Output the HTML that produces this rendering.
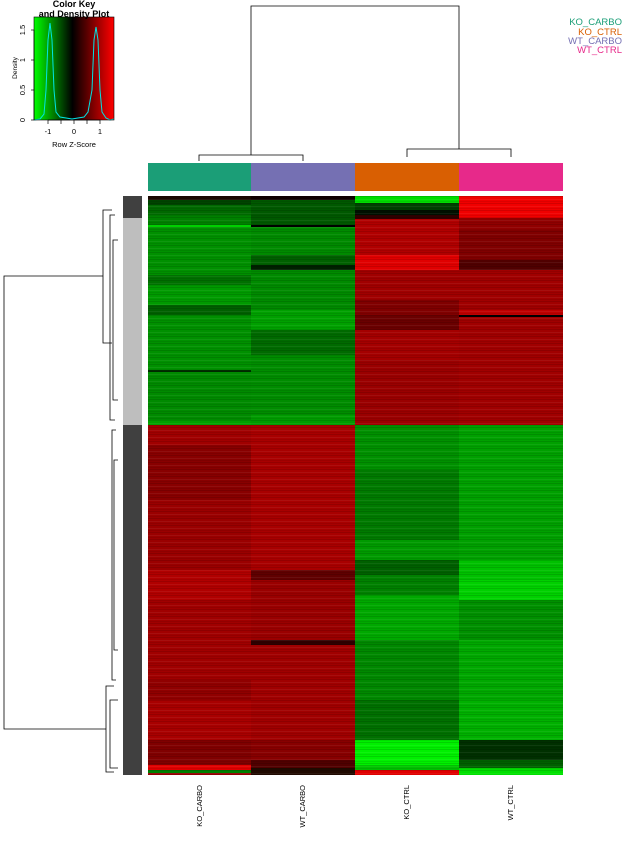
<!DOCTYPE html>
<html><head><style>body{margin:0;background:#fff}svg{display:block}</style></head><body>
<svg width="638" height="850" xmlns="http://www.w3.org/2000/svg" font-family="Liberation Sans, sans-serif">
<defs>
<linearGradient id="ck" x1="0" x2="1" y1="0" y2="0">
<stop offset="0" stop-color="#00ff00"/><stop offset="0.48" stop-color="#000"/><stop offset="1" stop-color="#ff0000"/>
</linearGradient>
<pattern id="tex" width="415" height="7" patternUnits="userSpaceOnUse">
<rect y="0" width="415" height="1" fill="#000" opacity="0.12"/>
<rect y="3" width="415" height="1" fill="#fff" opacity="0.06"/>
<rect y="5" width="415" height="1" fill="#000" opacity="0.08"/>
</pattern>
</defs>
<!-- color key -->
<rect x="34" y="17" width="80" height="103" fill="url(#ck)"/>
<polyline fill="none" stroke="#00e5e5" stroke-width="1" points="34,120 40,119 44,114 46,90 48,40 50,23 52,40 54,90 56,112 60,117 66,118 72,119 78,118 84,117 88,112 92,90 94,40 96,27 98,40 100,90 102,112 106,118 110,120 114,119"/>
<rect x="34" y="17" width="80" height="103" fill="none" stroke="#000" stroke-width="0.6"/>
<text x="74" y="7" font-size="9" font-weight="bold" text-anchor="middle">Color Key</text>
<text x="74" y="17" font-size="9" font-weight="bold" text-anchor="middle">and Density Plot</text>
<g stroke="#000" stroke-width="0.7"><line x1="34" y1="120" x2="34" y2="30"/><line x1="34" y1="120" x2="31" y2="120"/><line x1="34" y1="90" x2="31" y2="90"/><line x1="34" y1="60" x2="31" y2="60"/><line x1="34" y1="30" x2="31" y2="30"/>
<line x1="48" y1="120" x2="100" y2="120"/><line x1="48" y1="120" x2="48" y2="124"/><line x1="61" y1="120" x2="61" y2="124"/><line x1="74" y1="120" x2="74" y2="124"/><line x1="87" y1="120" x2="87" y2="124"/><line x1="100" y1="120" x2="100" y2="124"/></g>
<g font-size="7.5" text-anchor="middle"><text x="48" y="134">-1</text><text x="74" y="134">0</text><text x="100" y="134">1</text><text x="74" y="147">Row Z-Score</text>
<text transform="translate(25,120) rotate(-90)">0</text><text transform="translate(25,90) rotate(-90)">0.5</text><text transform="translate(25,60) rotate(-90)">1</text><text transform="translate(25,30) rotate(-90)">1.5</text>
<text transform="translate(17,68) rotate(-90)" font-size="6.5">Density</text></g>
<!-- legend -->
<g font-size="9.5" text-anchor="end"><text x="622" y="25" fill="#1b9e77">KO_CARBO</text><text x="622" y="35" fill="#d95f02">KO_CTRL</text><text x="622" y="44" fill="#7570b3">WT_CARBO</text><text x="622" y="53" fill="#e7298a">WT_CTRL</text></g>
<!-- top dendrogram -->
<g stroke="#000" stroke-width="0.8" fill="none">
<polyline points="251,155 251,6 459,6 459,149"/>
<polyline points="199,161 199,155 303,155 303,161"/>
<polyline points="407,157 407,149 511,149 511,157"/>
</g>
<!-- column bar -->
<rect x="148" y="163" width="104" height="28" fill="#1b9e77"/>
<rect x="251" y="163" width="104" height="28" fill="#7570b3"/>
<rect x="355" y="163" width="104" height="28" fill="#d95f02"/>
<rect x="459" y="163" width="104" height="28" fill="#e7298a"/>
<!-- row side bar -->
<rect x="123" y="196" width="19" height="22" fill="#404040"/>
<rect x="123" y="218" width="19" height="207" fill="#bebebe"/>
<rect x="123" y="425" width="19" height="350" fill="#404040"/>
<!-- heatmap -->
<g shape-rendering="crispEdges">
<!-- KO_CARBO -->
<g>
<rect x="148" y="196" width="104" height="4" fill="#1a0800"/><rect x="148" y="200" width="104" height="5" fill="#004400"/><rect x="148" y="205" width="104" height="10" fill="#006800"/><rect x="148" y="215" width="104" height="10" fill="#008000"/><rect x="148" y="225" width="104" height="2" fill="#00d000"/><rect x="148" y="227" width="104" height="48" fill="#009000"/><rect x="148" y="275" width="104" height="10" fill="#007000"/><rect x="148" y="285" width="104" height="20" fill="#009a00"/><rect x="148" y="305" width="104" height="10" fill="#006000"/><rect x="148" y="315" width="104" height="55" fill="#009000"/><rect x="148" y="370" width="104" height="2" fill="#003000"/><rect x="148" y="372" width="104" height="48" fill="#008a00"/><rect x="148" y="420" width="104" height="5" fill="#00a000"/>
<rect x="148" y="425" width="104" height="20" fill="#a00000"/><rect x="148" y="445" width="104" height="55" fill="#880000"/><rect x="148" y="500" width="104" height="70" fill="#9a0000"/><rect x="148" y="570" width="104" height="30" fill="#b00000"/><rect x="148" y="600" width="104" height="80" fill="#a00000"/><rect x="148" y="680" width="104" height="20" fill="#900000"/><rect x="148" y="700" width="104" height="40" fill="#a80000"/><rect x="148" y="740" width="104" height="25" fill="#800000"/><rect x="148" y="765" width="104" height="5" fill="#e00000"/><rect x="148" y="770" width="104" height="3" fill="#008000"/><rect x="148" y="773" width="104" height="2" fill="#900000"/>
</g>
<!-- WT_CARBO -->
<g>
<rect x="251" y="196" width="104" height="4" fill="#100000"/><rect x="251" y="200" width="104" height="25" fill="#005800"/><rect x="251" y="225" width="104" height="2" fill="#000"/><rect x="251" y="227" width="104" height="28" fill="#008a00"/><rect x="251" y="255" width="104" height="10" fill="#006000"/><rect x="251" y="265" width="104" height="5" fill="#002000"/><rect x="251" y="270" width="104" height="40" fill="#008a00"/><rect x="251" y="310" width="104" height="20" fill="#00a000"/><rect x="251" y="330" width="104" height="25" fill="#006a00"/><rect x="251" y="355" width="104" height="60" fill="#008c00"/><rect x="251" y="415" width="104" height="10" fill="#009a00"/>
<rect x="251" y="425" width="104" height="145" fill="#a80000"/><rect x="251" y="570" width="104" height="10" fill="#600000"/><rect x="251" y="580" width="104" height="60" fill="#9a0000"/><rect x="251" y="640" width="104" height="5" fill="#300000"/><rect x="251" y="645" width="104" height="95" fill="#a00000"/><rect x="251" y="740" width="104" height="20" fill="#880000"/><rect x="251" y="760" width="104" height="8" fill="#500000"/><rect x="251" y="768" width="104" height="7" fill="#200a00"/>
</g>
<!-- KO_CTRL -->
<g>
<rect x="355" y="196" width="104" height="7" fill="#00dd00"/><rect x="355" y="203" width="104" height="7" fill="#004000"/><rect x="355" y="210" width="104" height="5" fill="#001000"/><rect x="355" y="215" width="104" height="4" fill="#300000"/><rect x="355" y="219" width="104" height="36" fill="#b00000"/><rect x="355" y="255" width="104" height="15" fill="#e00000"/><rect x="355" y="270" width="104" height="30" fill="#a00000"/><rect x="355" y="300" width="104" height="15" fill="#800000"/><rect x="355" y="315" width="104" height="15" fill="#6a0000"/><rect x="355" y="330" width="104" height="30" fill="#a40000"/><rect x="355" y="360" width="104" height="65" fill="#9a0000"/>
<rect x="355" y="425" width="104" height="45" fill="#009000"/><rect x="355" y="470" width="104" height="70" fill="#007a00"/><rect x="355" y="540" width="104" height="20" fill="#009a00"/><rect x="355" y="560" width="104" height="15" fill="#006000"/><rect x="355" y="575" width="104" height="20" fill="#008000"/><rect x="355" y="595" width="104" height="45" fill="#00a800"/><rect x="355" y="640" width="104" height="60" fill="#008800"/><rect x="355" y="700" width="104" height="40" fill="#007000"/><rect x="355" y="740" width="104" height="25" fill="#00f000"/><rect x="355" y="765" width="104" height="5" fill="#00c000"/><rect x="355" y="770" width="104" height="5" fill="#e00000"/>
</g>
<!-- WT_CTRL -->
<g>
<rect x="459" y="196" width="104" height="22" fill="#f00000"/><rect x="459" y="218" width="104" height="12" fill="#900000"/><rect x="459" y="230" width="104" height="30" fill="#800000"/><rect x="459" y="260" width="104" height="10" fill="#500000"/><rect x="459" y="270" width="104" height="40" fill="#a00000"/><rect x="459" y="310" width="104" height="5" fill="#c00000"/><rect x="459" y="315" width="104" height="2" fill="#000"/><rect x="459" y="317" width="104" height="108" fill="#a00000"/>
<rect x="459" y="425" width="104" height="135" fill="#00a000"/><rect x="459" y="560" width="104" height="20" fill="#00c000"/><rect x="459" y="580" width="104" height="20" fill="#00d000"/><rect x="459" y="600" width="104" height="40" fill="#009000"/><rect x="459" y="640" width="104" height="60" fill="#00a800"/><rect x="459" y="700" width="104" height="40" fill="#00b000"/><rect x="459" y="740" width="104" height="20" fill="#003000"/><rect x="459" y="760" width="104" height="8" fill="#006000"/><rect x="459" y="768" width="104" height="7" fill="#00e000"/>
</g>
<rect x="148" y="196" width="415" height="579" fill="url(#tex)"/>
</g>
<!-- left dendrogram -->
<g stroke="#000" stroke-width="0.8" fill="none">
<polyline points="103,276 4,276 4,729 106,729"/>
<polyline points="112,210 103,210 103,343 112,343"/>
<polyline points="114,686 106,686 106,772 114,772"/>
<polyline points="115,215 110,215 110,420 115,420"/>
<polyline points="116,430 112,430 112,680 116,680"/>
<polyline points="118,240 113,240 113,400 118,400"/>
<polyline points="118,460 114,460 114,650 118,650"/>
<polyline points="118,700 110,700 110,768 118,768"/>
</g>
<!-- column labels -->
<g font-size="7.5" text-anchor="end">
<text transform="translate(202,785) rotate(-90)">KO_CARBO</text>
<text transform="translate(305,785) rotate(-90)">WT_CARBO</text>
<text transform="translate(409,785) rotate(-90)">KO_CTRL</text>
<text transform="translate(513,785) rotate(-90)">WT_CTRL</text>
</g>
</svg>
</body></html>
